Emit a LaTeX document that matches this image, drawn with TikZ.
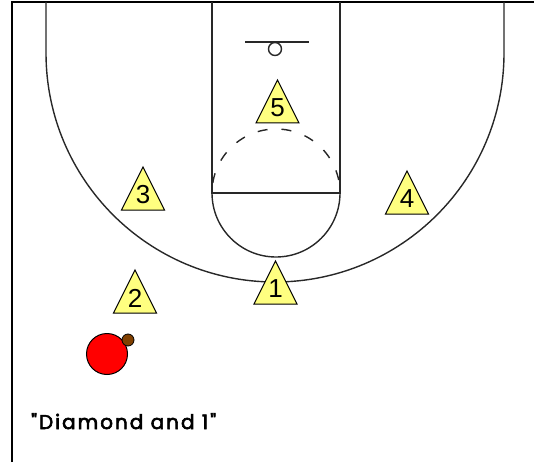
\documentclass[tikz,border=0pt]{standalone}
\usepackage{fontspec}
\setmainfont{Liberation Sans}
\newfontfamily\capfont[LetterSpace=10, FakeBold=3]{Poppins}
\definecolor{triyellow}{RGB}{255,255,128}
\definecolor{ballbrown}{RGB}{128,64,0}
\definecolor{courtgray}{RGB}{40,40,40}
\tikzset{
  frame/.style={line width=2pt, black},
  court/.style={line width=1.4pt, courtgray},
  tribox/.style={draw=black, line width=1pt, fill=triyellow, line join=miter},
  trilabel/.style={inner sep=0pt, font=\fontsize{26}{26}\selectfont},
  pics/player/.style args={#1}{code={
    \draw[tribox] (-21.5,0) -- (0,-43) -- (21.5,0) -- cycle;
    \node[trilabel] (-lbl) at (0,-15) {#1};
  }}
}
\begin{document}
\begin{tikzpicture}[x=1pt,y=-1pt]
\useasboundingbox (0,0) rectangle (534,462);
% frame
\draw[frame] (12,462) -- (12,2) -- (534,2);
% three-point line
\draw[court] (46,2) -- (46,53) arc[start angle=180, end angle=0, radius=229] -- (504,2);
% lane
\draw[court] (212,2) -- (212,193) -- (340,193) -- (340,2);
% free-throw circle
\draw[court] (212,193) arc[start angle=180, end angle=0, radius=64];
\draw[court, dash pattern=on 10pt off 14pt, dash phase=14pt] (212,193) arc[start angle=180, end angle=360, radius=64];
% basket
\draw[court] (245,42) -- (309,42);
\draw[court] (275,49) circle[radius=6.5];
% players
\pic (p5) at (277.5,123) {player={5}};
\pic (p3) at (143,210) {player={3}};
\pic (p4) at (407,214) {player={4}};
\pic (p1) at (275.5,304) {player={1}};
\pic (p2) at (135,313) {player={2}};
% ball handler
\node[circle, draw=black, line width=1pt, fill=red, minimum size=41pt, inner sep=0pt] (handler) at (107,354) {};
\node[circle, draw=black, line width=0.8pt, fill=ballbrown, minimum size=12pt, inner sep=0pt] (ball) at (128,340) {};
% caption
\node[anchor=base west, inner sep=0pt, font=\capfont\fontsize{20}{20}\selectfont] (caption) at (31,429) {"Diamond and 1"};
\end{tikzpicture}
\end{document}
